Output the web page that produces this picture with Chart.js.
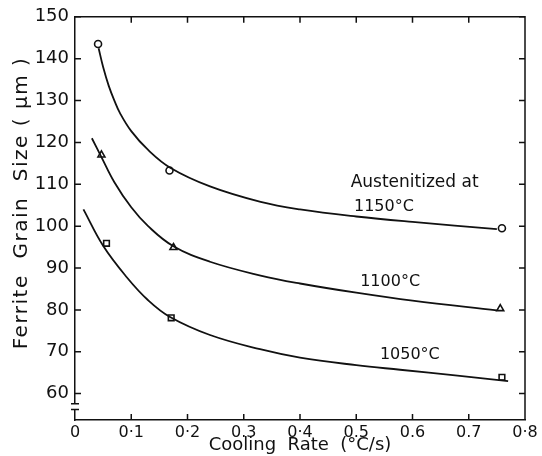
<!DOCTYPE html>
<html>
<head>
<meta charset="utf-8">
<script src="https://cdn.jsdelivr.net/npm/chart.js@4.4.0/dist/chart.umd.min.js"></script>
<style>
  html, body { margin: 0; padding: 0; background: #fff; }
</style>
</head>
<body>
<canvas id="myChart" width="542" height="456"></canvas>
<script>
// tick values / labels
const xTickValues = [0, 0.1, 0.2, 0.3, 0.4, 0.5, 0.6, 0.7, 0.8]
const xTickLabels = ['0', '0·1', '0·2', '0.3', '0·4', '0.5', '0.6', '0.7', '0·8']
const yTickValues = [60, 70, 80, 90, 100, 110, 120, 130, 140, 150]

// measured points (cooling rate, grain size)
const rates1150 = [0.041, 0.168, 0.759]
const sizes1150 = [143.5, 113.3, 99.5]
const rates1100 = [0.047, 0.175, 0.756]
const sizes1100 = [117.0, 94.9, 80.3]
const rates1050 = [0.056, 0.171, 0.759]
const sizes1050 = [95.9, 78.1, 63.9]

// fitted curves
const curve1150X = [0.042, 0.05, 0.06, 0.07, 0.08, 0.1, 0.13, 0.17, 0.24, 0.33, 0.4, 0.5, 0.6, 0.75]
const curve1150Y = [142.5, 138, 133.5, 130, 127, 122.7, 118.2, 113.9, 109.5, 105.8, 104.0, 102.3, 101.0, 99.3]
const curve1100X = [0.03, 0.047, 0.07, 0.1, 0.13, 0.175, 0.24, 0.33, 0.4, 0.5, 0.6, 0.75]
const curve1100Y = [121, 116.5, 110.5, 104.5, 100, 95.2, 91.5, 88.2, 86.3, 84.1, 82.2, 79.9]
const curve1050X = [0.015, 0.05, 0.092, 0.13, 0.169, 0.24, 0.329, 0.4, 0.5, 0.578, 0.68, 0.77]
const curve1050Y = [104, 95.3, 87.8, 82.3, 78.3, 74.0, 70.6, 68.6, 66.8, 65.7, 64.3, 63.0]

// text labels inside the plot (data coordinates)
const noteTexts = ['Austenitized at', '1150°C', '1100°C', '1050°C']
const noteX = [0.49, 0.496, 0.507, 0.542]
const noteY = [110.3, 104.7, 86.7, 69.2]

const ink = '#111'
const font = '"DejaVu Sans", sans-serif'

function toXY(xs, ys) {
  return xs.map((x, i) => ({ x: x, y: ys[i] }))
}

function curve(xs, ys) {
  return {
    data: toXY(xs, ys),
    showLine: true,
    borderColor: ink,
    borderWidth: 1.8,
    pointRadius: 0,
    tension: 0.4,
    fill: false,
  }
}

function marks(xs, ys, style, r) {
  return {
    data: toXY(xs, ys),
    showLine: false,
    pointStyle: style,
    pointRadius: r,
    pointBorderColor: ink,
    pointBorderWidth: 1.6,
    pointBackgroundColor: '#fff',
  }
}

// frame, inward ticks, axis break, notes and y title
const decorations = {
  id: 'decorations',
  afterDraw(chart) {
    const { ctx, chartArea: a, scales } = chart
    const xs = scales.x
    const ys = scales.y
    ctx.save()
    ctx.strokeStyle = ink
    ctx.lineWidth = 1.5
    ctx.beginPath()
    ctx.moveTo(a.left, a.top)
    ctx.lineTo(a.right, a.top)
    ctx.lineTo(a.right, a.bottom)
    ctx.stroke()

    ctx.beginPath()
    yTickValues.forEach(v => {
      const y = ys.getPixelForValue(v)
      ctx.moveTo(a.left, y)
      ctx.lineTo(a.left + 6, y)
      ctx.moveTo(a.right, y)
      ctx.lineTo(a.right - 6, y)
    })
    xTickValues.slice(1, -1).forEach(v => {
      const x = xs.getPixelForValue(v)
      ctx.moveTo(x, a.bottom)
      ctx.lineTo(x, a.bottom - 6)
      ctx.moveTo(x, a.top)
      ctx.lineTo(x, a.top + 6)
    })
    ctx.stroke()

    // axis break
    const b1 = ys.getPixelForValue(57.6)
    const b2 = ys.getPixelForValue(56.2)
    ctx.fillStyle = '#fff'
    ctx.fillRect(a.left - 3, b1, 6, b2 - b1)
    ctx.beginPath()
    ctx.moveTo(a.left - 4, b1)
    ctx.lineTo(a.left + 4, b1)
    ctx.moveTo(a.left - 4, b2)
    ctx.lineTo(a.left + 4, b2)
    ctx.stroke()

    ctx.fillStyle = ink
    ctx.textBaseline = 'middle'
    ctx.textAlign = 'left'
    noteTexts.forEach((t, i) => {
      ctx.font = (i === 0 ? '17px ' : '16px ') + font
      ctx.fillText(t, xs.getPixelForValue(noteX[i]), ys.getPixelForValue(noteY[i]))
    })

    ctx.translate(22, 203)
    ctx.rotate(-Math.PI / 2)
    ctx.textAlign = 'center'
    ctx.font = '20px ' + font
    ctx.letterSpacing = '1.5px'
    ctx.fillText('Ferrite  Grain  Size ( µm )', 0, 0)
    ctx.restore()
  },
}

const ctx = document.getElementById('myChart').getContext('2d')
new Chart(ctx, {
  type: 'scatter',
  data: {
    datasets: [
      curve(curve1150X, curve1150Y),
      curve(curve1100X, curve1100Y),
      curve(curve1050X, curve1050Y),
      marks(rates1150, sizes1150, 'circle', 3.5),
      marks(rates1100, sizes1100, 'triangle', 4),
      marks(rates1050, sizes1050, 'rect', 4),
    ],
  },
  options: {
    responsive: false,
    animation: false,
    layout: { padding: { top: 16, right: 17, left: 0, bottom: 0 } },
    plugins: {
      legend: { display: false },
      tooltip: { enabled: false },
    },
    scales: {
      x: {
        type: 'linear',
        min: 0,
        max: 0.8,
        afterBuildTicks: s => { s.ticks = xTickValues.map(v => ({ value: v })) },
        afterFit: s => { s.height = 36 },
        grid: { display: false, drawTicks: false },
        border: { display: true, color: ink, width: 1.5 },
        ticks: {
          color: ink,
          padding: 3,
          font: { family: font, size: 16 },
          callback: (v, i) => xTickLabels[i],
        },
        title: {
          display: true,
          text: 'Cooling  Rate  (°C/s)',
          color: ink,
          font: { family: font, size: 18 },
          padding: { top: 0, bottom: 0 },
        },
      },
      y: {
        min: 53.7,
        max: 150,
        afterBuildTicks: s => { s.ticks = yTickValues.map(v => ({ value: v })) },
        afterFit: s => { s.width = 75 },
        grid: { display: false, drawTicks: false },
        border: { display: true, color: ink, width: 1.5 },
        ticks: {
          color: ink,
          padding: 6,
          font: { family: font, size: 18 },
        },
      },
    },
  },
  plugins: [decorations],
})
</script>
</body>
</html>
